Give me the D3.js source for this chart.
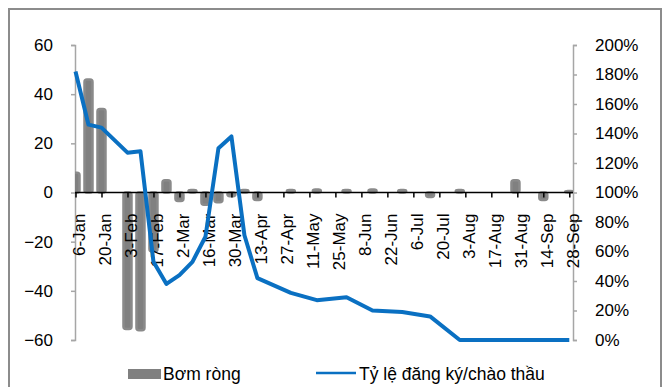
<!DOCTYPE html>
<html>
<head>
<meta charset="utf-8">
<script src="https://cdn.jsdelivr.net/npm/d3@7"></script>
<style>
  body { margin: 0; background: #fff; }
  text { font-family: "Liberation Sans", Arial, sans-serif; fill: #000; }
</style>
</head>
<body>
<div id="container"></div>
<script>
const w = 668
const h = 387
const margin = { top: 45, right: 95, bottom: 47, left: 75 }

// Bơm ròng (net injection), left axis
const barDates = ['2020-01-06', '2020-01-13', '2020-01-20', '2020-02-03', '2020-02-10', '2020-02-17',
  '2020-02-24', '2020-03-02', '2020-03-09', '2020-03-16', '2020-03-23', '2020-03-30', '2020-04-06',
  '2020-04-13', '2020-05-01', '2020-05-15', '2020-05-31', '2020-06-14', '2020-06-30', '2020-07-15',
  '2020-07-31', '2020-08-30', '2020-09-14', '2020-09-28']
const barValues = [8, 46, 34, -55.5, -56, -24, 5, -3.5, 1, -5, -4, -1.5, 1,
  -3, 1, 1.2, 1, 1.2, 1, -1.8, 1, 5, -3, 0.6]

// Tỷ lệ đăng ký/chào thầu (bid-to-offer ratio), right axis
const lineDates = ['2020-01-06', '2020-01-13', '2020-01-20', '2020-02-03', '2020-02-10', '2020-02-17',
  '2020-02-24', '2020-03-02', '2020-03-09', '2020-03-16', '2020-03-23', '2020-03-30', '2020-04-06',
  '2020-04-13', '2020-05-01', '2020-05-15', '2020-05-31', '2020-06-14', '2020-06-30', '2020-07-15',
  '2020-07-31', '2020-09-28']
const lineValues = [1.82, 1.46, 1.44, 1.27, 1.28, 0.53, 0.38, 0.44, 0.53, 0.70, 1.30, 1.38, 0.71,
  0.42, 0.32, 0.27, 0.29, 0.20, 0.19, 0.16, 0, 0]

const xTickLabels = ['6-Jan', '20-Jan', '3-Feb', '17-Feb', '2-Mar', '16-Mar', '30-Mar', '13-Apr',
  '27-Apr', '11-May', '25-May', '8-Jun', '22-Jun', '6-Jul', '20-Jul', '3-Aug', '17-Aug', '31-Aug',
  '14-Sep', '28-Sep']
const leftTicks = [-60, -40, -20, 0, 20, 40, 60]
const rightTicks = [0, 0.2, 0.4, 0.6, 0.8, 1, 1.2, 1.4, 1.6, 1.8, 2]

const parse = d3.timeParse('%Y-%m-%d')
const parseTick = d3.timeParse('%d-%b-%Y')
const bars = barDates.map((d, i) => ({ date: parse(d), value: barValues[i] }))
const line = lineDates.map((d, i) => ({ date: parse(d), value: lineValues[i] }))
const xTicks = xTickLabels.map(t => parseTick(t + '-2020'))

const svg = d3.select('#container')
              .append('svg')
              .attr('width', w)
              .attr('height', h)

// outer chart border
svg.append('rect')
   .attr('x', 9).attr('y', 9)
   .attr('width', 652).attr('height', 400)
   .attr('fill', 'none')
   .attr('stroke', '#8c8c8c')
   .attr('stroke-width', 2)

const x0 = margin.left
const x1 = w - margin.right
const y0 = margin.top
const y1 = h - margin.bottom

// Scales
const xScale = d3.scaleTime()
                 .domain([parse('2020-01-06'), parse('2020-09-30')])
                 .range([x0 + 0.5, x1])
const yLeft = d3.scaleLinear().domain([-60, 60]).range([y1, y0])
const yRight = d3.scaleLinear().domain([0, 2]).range([y1, y0])

svg.append('clipPath').attr('id', 'plot')
   .append('rect')
   .attr('x', x0).attr('y', y0 - 5)
   .attr('width', x1 - x0).attr('height', y1 - y0 + 10)

// Axes
const leftAxis = d3.axisLeft(yLeft).tickValues(leftTicks).tickSize(4).tickPadding(18)
const gl = svg.append('g')
   .attr('transform', 'translate(' + x0 + ', 0)')
   .call(leftAxis)
const rightAxis = d3.axisRight(yRight).tickValues(rightTicks).tickSize(4).tickPadding(18)
   .tickFormat(d3.format('.0%'))
const gr = svg.append('g')
   .attr('transform', 'translate(' + x1 + ', 0)')
   .call(rightAxis)
;[gl, gr].forEach(g => {
  g.select('.domain').attr('stroke', '#a6a6a6').attr('stroke-width', 1.5)
  g.selectAll('.tick line').attr('stroke', '#a6a6a6').attr('stroke-width', 1.5)
  g.selectAll('.tick text').attr('font-size', 17).attr('font-family', '"Liberation Sans", Arial, sans-serif')
})

// Bars
const barWidth = 8
svg.append('g')
   .attr('clip-path', 'url(#plot)')
   .selectAll('rect')
   .data(bars)
   .enter()
   .append('rect')
   .attr('x', d => xScale(d.date) - barWidth / 2)
   .attr('y', d => Math.min(yLeft(d.value), yLeft(0)))
   .attr('width', barWidth)
   .attr('height', d => Math.abs(yLeft(d.value) - yLeft(0)))
   .attr('rx', 2.5)
   .attr('fill', '#808080')
   .attr('stroke', '#8a8a8a')
   .attr('stroke-width', 2.5)
   .attr('stroke-linejoin', 'round')

// Zero line with date ticks
const xAxis = d3.axisBottom(xScale)
                .tickValues(xTicks)
                .tickSize(5)
                .tickFormat((d, i) => xTickLabels[i])
const gx = svg.append('g')
   .attr('transform', 'translate(0, ' + yLeft(0) + ')')
   .call(xAxis)
gx.select('.domain').attr('stroke', '#000').attr('stroke-width', 1.5)
   .attr('d', 'M' + x0 + ',0H' + x1)
gx.selectAll('.tick line').attr('stroke', '#000').attr('stroke-width', 1.5)
gx.selectAll('.tick text')
  .attr('font-size', 17)
  .attr('font-family', '"Liberation Sans", Arial, sans-serif')
  .attr('text-anchor', 'end')
  .attr('transform', 'rotate(-90)')
  .attr('x', -21)
  .attr('y', 3)
  .attr('dy', '0.35em')

// Line
const path = d3.line()
               .x(d => xScale(d.date))
               .y(d => yRight(d.value))
svg.append('path')
   .datum(line)
   .attr('d', path)
   .attr('fill', 'none')
   .attr('stroke', '#0a70c2')
   .attr('stroke-width', 4)
   .attr('stroke-linejoin', 'round')

// Legend
const legend = svg.append('g')
legend.append('rect')
      .attr('x', 128).attr('y', 369)
      .attr('width', 33).attr('height', 10)
      .attr('fill', '#808080')
legend.append('text')
      .attr('x', 163).attr('y', 380)
      .style('font-size', '17.5px')
      .text('Bơm ròng')
legend.append('line')
      .attr('x1', 316).attr('x2', 356)
      .attr('y1', 373).attr('y2', 373)
      .attr('stroke', '#0a70c2')
      .attr('stroke-width', 2.5)
legend.append('text')
      .attr('x', 359).attr('y', 380)
      .style('font-size', '17.5px')
      .text('Tỷ lệ đăng ký/chào thầu')
</script>
</body>
</html>
